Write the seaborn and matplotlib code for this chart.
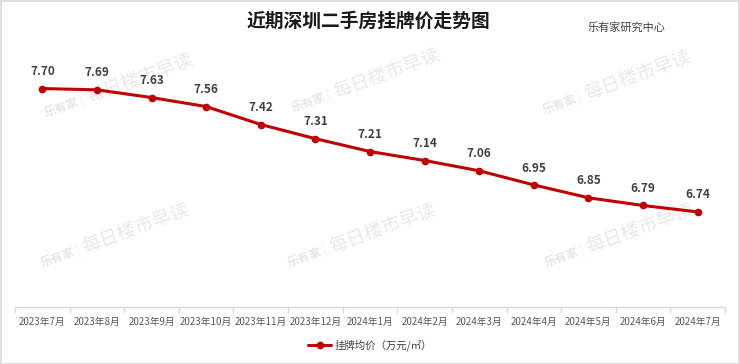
import pandas as pd
import matplotlib
matplotlib.use('Agg')
import matplotlib.pyplot as plt
import seaborn as sns
from matplotlib.patches import Rectangle
from matplotlib.lines import Line2D

# --- data ---
MONTHS = ['2023年7月', '2023年8月', '2023年9月', '2023年10月', '2023年11月', '2023年12月',
          '2024年1月', '2024年2月', '2024年3月', '2024年4月', '2024年5月', '2024年6月', '2024年7月']
PRICES = [7.70, 7.69, 7.63, 7.56, 7.42, 7.31, 7.21, 7.14, 7.06, 6.95, 6.85, 6.79, 6.74]
SERIES_NAME = '挂牌均价（万元/㎡）'
TITLE = '近期深圳二手房挂牌价走势图'
SOURCE = '乐有家研究中心'

RED = '#C00000'
W, H = 740, 364

sns.set_theme(style='white')
plt.rcParams['font.family'] = ['Noto Sans CJK SC', 'DejaVu Sans']

df = pd.DataFrame({'month': MONTHS, 'price': PRICES})

fig = plt.figure(figsize=(W / 100, H / 100), dpi=100)
ax = fig.add_axes([15 / W, 1 - 307 / H, 710 / W, 257 / H])
ax.set_zorder(2)

sns.lineplot(data=df, x='month', y='price', ax=ax, color=RED, linewidth=2.2,
             marker='o', markersize=5.5, markeredgewidth=0, sort=False)

# watermarks (faint, rotated) - kept behind the axes
for cx, cy in [(140, 78), (387, 73), (638, 75), (136, 228), (383, 228), (640, 228)]:
    fig.text(cx / W, 1 - cy / H, '每日楼市早读', rotation=20, fontsize=13.5,
             color='#e9e9e9', ha='center', va='center', zorder=-1)
    fig.text((cx - 78) / W, 1 - (cy + 30) / H, '乐有家', rotation=20, fontsize=8.5,
             fontweight='bold', color='#e6e6e6', ha='center', va='center', zorder=-1)
    fig.text((cx - 58) / W, 1 - (cy + 22) / H, '|', rotation=20, fontsize=10,
             color='#eeeeee', ha='center', va='center', zorder=-1)

# value labels
for i, v in enumerate(PRICES):
    ax.annotate(f'{v:.2f}', (i, v), xytext=(0, 7.5), textcoords='offset points',
                ha='center', va='bottom', fontsize=8.5, fontweight='bold', color='#404040')

ax.set_xlim(-0.5, len(MONTHS) - 0.5)
ax.set_ylim(6.0, 8.0)
ax.set_xlabel('')
ax.set_ylabel('')
ax.set_yticks([])
for s in ['left', 'top', 'right']:
    ax.spines[s].set_visible(False)
ax.spines['bottom'].set_color('#d9d9d9')
ax.spines['bottom'].set_linewidth(1)
ax.set_xticks(range(len(MONTHS)))
ax.set_xticklabels(MONTHS)
ax.set_xticks([i - 0.5 for i in range(len(MONTHS) + 1)], minor=True)
ax.tick_params(axis='x', which='major', length=0, pad=7, labelsize=7, labelcolor='#595959')
ax.tick_params(axis='x', which='minor', length=4.5, width=1, color='#d9d9d9', bottom=True)
ax.patch.set_alpha(0)

# title and source
fig.text(368 / W, 1 - 21 / H, TITLE, fontsize=13.5, fontweight='bold', color='#1a1a1a',
         ha='center', va='center')
fig.text(627 / W, 1 - 27 / H, SOURCE, fontsize=8, color='#404040', ha='center', va='center')

# legend
handle = Line2D([], [], color=RED, linewidth=2.2, marker='o', markersize=5.5, markeredgewidth=0)
fig.legend([handle], [SERIES_NAME], loc='center', bbox_to_anchor=(0.5, 1 - 345 / H),
           frameon=False, fontsize=7.5, handlelength=2.2, handletextpad=0.3,
           labelcolor='#404040')

# light grey frame around the whole chart
fig.patches.append(Rectangle((0.5 / W, 0.5 / H), 1 - 1.5 / W, 1 - 1.5 / H,
                             transform=fig.transFigure, fill=False,
                             edgecolor='#d9d9d9', linewidth=1.2))

fig.savefig('out.png', dpi=100)
